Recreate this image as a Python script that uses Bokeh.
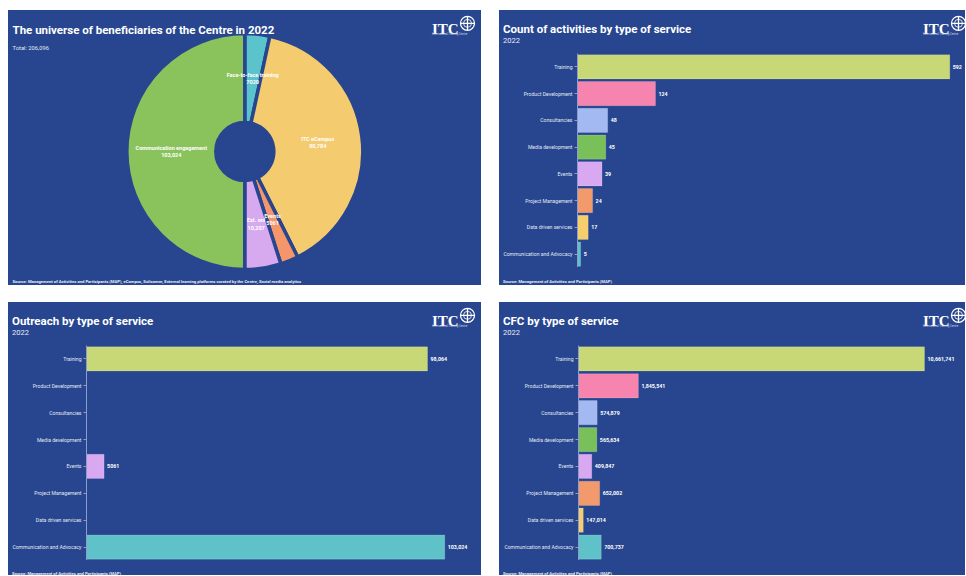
import math
from bokeh.plotting import figure
from bokeh.models import Range1d, FactorRange, ColumnDataSource, Spacer
from bokeh.layouts import column, row
from bokeh.embed import file_html
from bokeh.resources import INLINE
from bokeh.core.properties import value

# ---------------- data ----------------
pie_labels = ["Face-to-face training", "ITC eCampus", "Events", "Ext. onl", "Communication engagement"]
pie_values = [7020, 80784, 5061, 10207, 103024]
pie_colors = ["#5BC3CB", "#F5CB6F", "#F4956A", "#D7A9EF", "#8AC35C"]
pie_total = 206096

services = ["Training", "Product Development", "Consultancies", "Media development",
            "Events", "Project Management", "Data driven services", "Communication and Advocacy"]
service_colors = ["#C9D877", "#F784AE", "#A3B9F1", "#79C05B", "#D8A8F0", "#F39A6C", "#F6CF6C", "#5EC2C8"]
activities = [592, 124, 48, 45, 39, 24, 17, 5]
outreach = [98064, 0, 0, 0, 5061, 0, 0, 103024]
cfc = [10661741, 1845541, 574879, 565634, 409847, 652002, 147014, 700737]

titles = ["The universe of beneficiaries of the Centre in 2022",
          "Count of activities by type of service",
          "Outreach by type of service",
          "CFC by type of service"]
subtitle = "2022"
source_pie = ("Source: Management of Activities and Participants (MAP), eCampus, Solicomm, "
              "External learning platforms curated by the Centre, Social media analytics")
source_bar = "Source: Management of Activities and Participants (MAP)"

BG = "#27468F"
TITLE_FONT = "Roboto"
TITLE_SIZE = "11.5px"


def fmt(v):
    return f"{v:,}" if v >= 10000 else str(v)


def plain_fig(W, H, **kw):
    p = figure(width=W, height=H, output_backend="svg", toolbar_location=None, tools="",
               min_border_left=0, min_border_right=0, min_border_top=0, min_border_bottom=0,
               x_range=Range1d(0, W), y_range=Range1d(0, H),
               x_axis_location=None, y_axis_location=None, frame_align=False,
               background_fill_color=BG, border_fill_color=BG, **kw)
    p.outline_line_color = None
    p.xgrid.visible = False
    p.ygrid.visible = False
    return p


def txt(p, y0, X, Y, text, size, bold=False, font="Roboto", color="white",
        align="left", baseline="middle"):
    """X, Y: panel coordinates (from top-left); y0: panel y of this figure's top edge."""
    yd = (y0 + p.height) - Y
    p.text(x=[X], y=[yd], text=[text], text_font=value(font), text_font_size=size,
           text_font_style="bold" if bold else "normal", text_color=color,
           text_align=align, text_baseline=baseline)


def logo(p, y0):
    txt(p, y0, 423.5, 18.6, "ITC", "15px", bold=True, font="Liberation Serif",
        baseline="alphabetic")
    yd = (y0 + p.height) - 12.8
    p.scatter(x=[459], y=[yd], marker="circle_cross", size=14, fill_color=None,
              line_color="white", line_width=1.3)
    p.scatter(x=[459], y=[yd], marker="circle", size=8, fill_color=None,
              line_color="white", line_width=0.8)
    txt(p, y0, 423.5, 23.6, "International Training Centre", "2.8px", color="#cfd8ee")


def panel_box(*children):
    return column(*children, styles={"background-color": BG})


# ---------------- pie panel ----------------
W1, H1 = 473, 275
p1 = plain_fig(W1, H1)

cx, cy = 236.3, 134.0
r_in, r_out = 29.0, 118.0
starts, ends, lx, ly, ltxt = [], [], [], [], []
cum = 0.0
for lab, v in zip(pie_labels, pie_values):
    a0 = math.pi / 2 - 2 * math.pi * cum / pie_total
    cum += v
    a1 = math.pi / 2 - 2 * math.pi * cum / pie_total
    starts.append(a0)
    ends.append(a1)
    mid = (a0 + a1) / 2
    rm = (r_in + r_out) / 2
    lx.append(cx + rm * math.cos(mid))
    ly.append(cy + rm * math.sin(mid))
    ltxt.append(f"{lab}\n{fmt(v)}")

pie_src = ColumnDataSource(dict(start=starts, end=ends, color=pie_colors,
                                x=[cx] * len(pie_values), y=[cy] * len(pie_values)))
p1.annular_wedge(x="x", y="y", inner_radius=r_in, outer_radius=r_out, start_angle="start",
                 end_angle="end", direction="clock", fill_color="color", line_color=BG,
                 line_width=3.5, line_join="round", source=pie_src)
p1.text(x=lx, y=ly, text=ltxt, text_align="center", text_baseline="middle",
        text_font=value("Roboto"), text_font_style="bold", text_font_size="5.5px",
        text_color="white", text_line_height=1.25)

txt(p1, 0, 4, 19.3, titles[0], TITLE_SIZE, bold=True, font=TITLE_FONT, baseline="alphabetic")
txt(p1, 0, 4, 37.3, f"Total: {pie_total:,}", "5.8px", color="#e6eaf5")
txt(p1, 0, 4, 270.7, source_pie, "4.2px", bold=True, color="#e6eaf5")
logo(p1, 0)


# ---------------- bar panels ----------------
def bar_panel(title, vals, W, H, T, B, L, R, xend):
    head = plain_fig(W, T)
    txt(head, 0, 3.5, 18.0, title, TITLE_SIZE, bold=True, font=TITLE_FONT, baseline="alphabetic")
    txt(head, 0, 3.5, 29.5, subtitle, "7.5px", color="#e6eaf5")
    logo(head, 0)

    body = figure(width=W, height=H - T - B, output_backend="svg", toolbar_location=None,
                  tools="", min_border_left=L, min_border_right=R, min_border_top=0,
                  min_border_bottom=0, y_range=FactorRange(factors=services[::-1]),
                  x_range=Range1d(0, xend), x_axis_location=None, frame_align=False,
                  background_fill_color=BG, border_fill_color=BG)
    body.outline_line_color = None
    body.xgrid.visible = False
    body.ygrid.visible = False
    src = ColumnDataSource(dict(cat=services, val=vals, color=service_colors))
    body.hbar(y="cat", left=0, right="val", height=0.9, fill_color="color",
              line_color="white", line_alpha=0.25, line_width=0.6, source=src)
    nz = [(c, v) for c, v in zip(services, vals) if v > 0]
    lsrc = ColumnDataSource(dict(cat=[c for c, _ in nz], val=[v for _, v in nz],
                                 lbl=[fmt(v) for _, v in nz]))
    body.text(x="val", y="cat", text="lbl", x_offset=3, text_baseline="middle",
              text_font=value("Roboto"), text_font_style="bold", text_font_size="5.3px",
              text_color="white", source=lsrc)
    ax = body.yaxis[0]
    ax.axis_line_color = "#8e9ccc"
    ax.axis_line_width = 1
    ax.major_tick_line_color = "#8e9ccc"
    ax.major_tick_out = 3
    ax.major_tick_in = 0
    ax.minor_tick_line_color = None
    ax.major_label_standoff = 2
    ax.major_label_text_font = "Roboto"
    ax.major_label_text_font_size = "5.1px"
    ax.major_label_text_color = "#e3e8f4"

    foot = plain_fig(W, B)
    txt(foot, H - B, 3.5, 270.6, source_bar, "4.2px", bold=True, color="#e6eaf5")
    return panel_box(row(head), row(body), row(foot))


c2 = bar_panel(titles[1], activities, 466, 275, 43, 18, 78, 3, 612.2)
c3 = bar_panel(titles[2], outreach, 473, 273, 43, 15, 78, 1, 113290)
c4 = bar_panel(titles[3], cfc, 466, 273, 43, 15, 79, 2, 11863000)

layout = column(
    Spacer(height=10),
    row(Spacer(width=8), panel_box(p1), Spacer(width=18), c2),
    Spacer(height=17),
    row(Spacer(width=8), c3, Spacer(width=18), c4),
)

open("out.html", "w").write(file_html(layout, INLINE))
